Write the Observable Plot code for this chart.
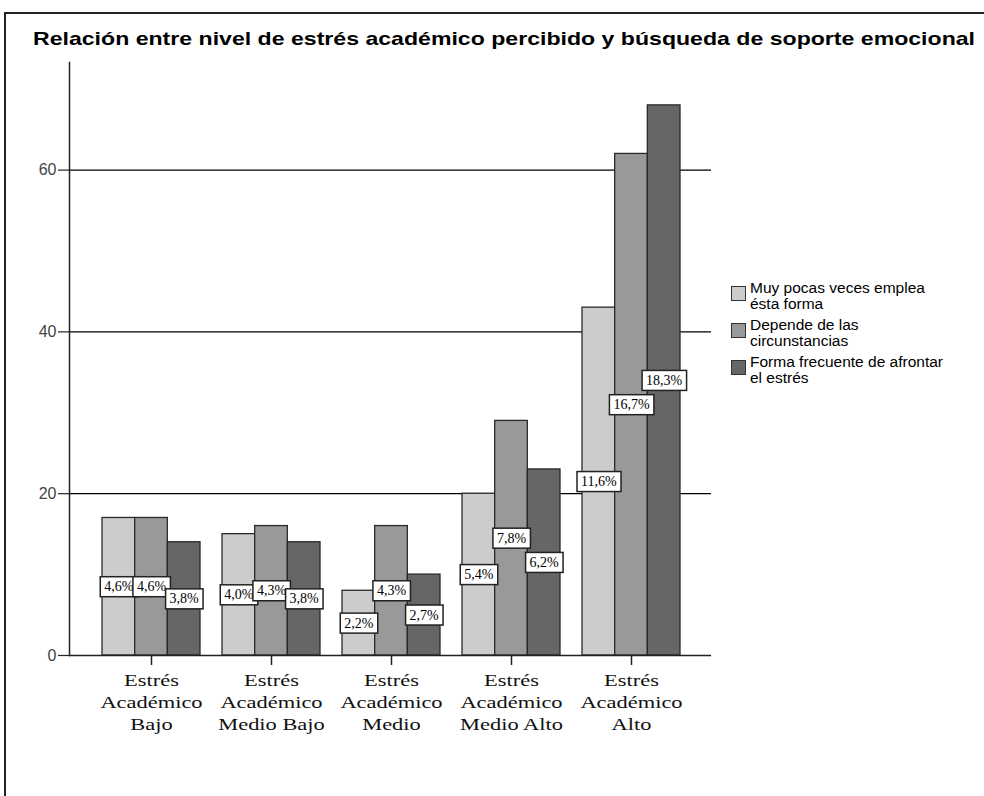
<!DOCTYPE html>
<html>
<head>
<meta charset="utf-8">
<script src="https://cdn.jsdelivr.net/npm/d3@7"></script>
<script src="https://cdn.jsdelivr.net/npm/@observablehq/plot@0.6"></script>
<style>
  html, body { margin: 0; padding: 0; background: #fff; }
  #wrap { position: relative; width: 984px; height: 796px; overflow: hidden; background: #fff; }
  #border { position: absolute; left: 4px; top: 12px; width: 1200px; height: 1200px; border-top: 2px solid #222; border-left: 2px solid #222; box-sizing: border-box; }
  #title { position: absolute; left: 33px; top: 28px; font-family: "Liberation Sans", Arial, sans-serif; font-weight: bold; font-size: 18.5px; white-space: nowrap; color: #000; line-height: 22px; transform-origin: 0 0; }
  #chart { position: absolute; left: 0; top: 0; }
  #legend { position: absolute; left: 731px; top: 280px; font-family: "Liberation Sans", Arial, sans-serif; font-size: 15.5px; line-height: 15.5px; color: #000; }
  .item { position: relative; height: 37px; padding-left: 19px; }
  .sw { position: absolute; left: 0; top: 6px; width: 13px; height: 13px; border: 1.5px solid #333; }
</style>
</head>
<body>
<div id="wrap">
  <div id="border"></div>
  <div id="chart"></div>
  <div id="title">Relación entre nivel de estrés académico percibido y búsqueda de soporte emocional</div>
  <div id="legend"></div>
</div>
<script>
// ---- data ----
const categories = [
  "Estrés\nAcadémico\nBajo",
  "Estrés\nAcadémico\nMedio Bajo",
  "Estrés\nAcadémico\nMedio",
  "Estrés\nAcadémico\nMedio Alto",
  "Estrés\nAcadémico\nAlto"
];
const seriesNames = [
  "Muy pocas veces emplea\nésta forma",
  "Depende de las\ncircunstancias",
  "Forma frecuente de afrontar\nel estrés"
];
const seriesColors = ["#cccccc", "#999999", "#666666"];
const muyPocas   = [17, 15, 8, 20, 43];
const depende    = [17, 16, 16, 29, 62];
const frecuente  = [14, 14, 10, 23, 68];
const muyPocasPct  = ["4,6%", "4,0%", "2,2%", "5,4%", "11,6%"];
const dependePct   = ["4,6%", "4,3%", "4,3%", "7,8%", "16,7%"];
const frecuentePct = ["3,8%", "3,8%", "2,7%", "6,2%", "18,3%"];
const yTicks = [0, 20, 40, 60];

const seriesValues = [muyPocas, depende, frecuente];
const seriesPct = [muyPocasPct, dependePct, frecuentePct];
const rows = [];
seriesValues.forEach((vals, s) => vals.forEach((v, i) => rows.push({
  cat: categories[i], series: seriesNames[s], s, value: v, pct: seriesPct[s][i]
})));

// ---- layout ----
const W = 984, H = 796;
const mL = 69, mR = W - 711, mT = 62, mB = H - 655;
const bandStart = 91, bandEnd = 691;
const step = (bandEnd - bandStart) / categories.length; // 120
const groupPad = 11;
const barW = (step - 2 * groupPad) / 3;

const marks = [
  Plot.ruleY([20, 40, 60], {stroke: "#000", strokeWidth: 1.2}),
];
seriesNames.forEach((name, s) => {
  marks.push(Plot.barY(rows.filter(d => d.s === s), {
    x: "cat", y: "value", fill: "series",
    stroke: "#2a2a2a", strokeWidth: 1.3,
    insetLeft: groupPad + s * barW,
    insetRight: step - groupPad - (s + 1) * barW
  }));
});
seriesNames.forEach((name, s) => {
  marks.push(Plot.text(rows.filter(d => d.s === s), {
    x: "cat", y: d => d.value / 2, text: "pct",
    dx: (s - 1) * barW,
    fontFamily: "'Liberation Serif', 'Times New Roman', serif",
    fontSize: 14, fill: "#000"
  }));
});
marks.push(
  Plot.ruleY([0], {stroke: "#222", strokeWidth: 1.5}),
  Plot.frame({anchor: "left", stroke: "#222", strokeWidth: 1.5}),
  Plot.axisY({ticks: yTicks, tickSize: 11, tickPadding: 2, label: null, fontSize: 16,
    fontFamily: "'Liberation Sans', Arial, sans-serif", fill: "#444", stroke: "#222", strokeWidth: 1.2}),
  Plot.axisX({tickSize: 10, tickPadding: 5, label: null, fontSize: 16.5, lineHeight: 1.33,
    fontFamily: "'Liberation Serif', 'Times New Roman', serif", fill: "#111", stroke: "#222", strokeWidth: 1.5})
);

const plot = Plot.plot({
  width: W, height: H,
  marginLeft: mL, marginRight: mR, marginTop: mT, marginBottom: mB,
  style: {background: "transparent", overflow: "visible"},
  x: {domain: categories, range: [bandStart, bandEnd], padding: 0, label: null},
  y: {domain: [0, 73.3], label: null},
  color: {domain: seriesNames, range: seriesColors},
  marks
});
document.getElementById("chart").appendChild(plot);

const pctSet = new Set(seriesPct.flat());
const svgNS = "http://www.w3.org/2000/svg";
plot.querySelectorAll("text").forEach(t => {
  const txt = t.textContent;
  if (pctSet.has(txt)) {
    // white box behind percentage labels
    const b = t.getBBox();
    const r = document.createElementNS(svgNS, "rect");
    const px = 4, py = 2.5;
    r.setAttribute("x", b.x - px);
    r.setAttribute("y", b.y - py);
    r.setAttribute("width", b.width + 2 * px);
    r.setAttribute("height", b.height + 2 * py);
    r.setAttribute("fill", "#fff");
    r.setAttribute("stroke", "#222");
    r.setAttribute("stroke-width", 1.5);
    const tr = t.getAttribute("transform");
    if (tr) r.setAttribute("transform", tr);
    t.parentNode.insertBefore(r, t);
  } else if (txt.startsWith("Estrés")) {
    // x tick labels: widen horizontally like the reference
    const tr = t.getAttribute("transform") || "";
    t.setAttribute("transform", tr + " scale(1.36,1)");
  }
});

// legend
const leg = document.getElementById("legend");
seriesNames.forEach((name, s) => {
  const it = document.createElement("div");
  it.className = "item";
  const sw = document.createElement("div");
  sw.className = "sw";
  sw.style.background = seriesColors[s];
  it.appendChild(sw);
  name.split("\n").forEach(line => {
    const l = document.createElement("div");
    l.textContent = line;
    it.appendChild(l);
  });
  leg.appendChild(it);
});

// stretch title to reference span
const title = document.getElementById("title");
const w0 = title.getBoundingClientRect().width;
title.style.transform = "scaleX(" + (942 / w0).toFixed(4) + ")";
</script>
</body>
</html>
